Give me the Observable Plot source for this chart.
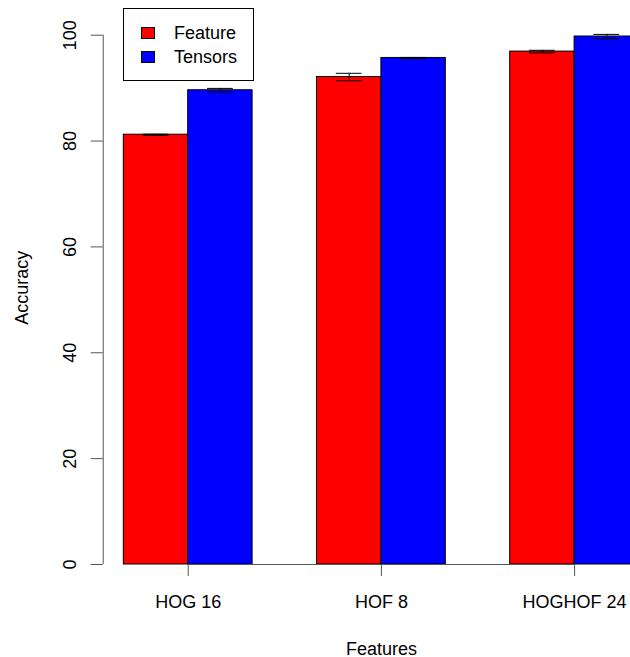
<!DOCTYPE html>
<html>
<head>
<meta charset="utf-8">
<script src="https://cdn.jsdelivr.net/npm/d3@7"></script>
<script src="https://cdn.jsdelivr.net/npm/@observablehq/plot@0.6"></script>
<style>
  html, body { margin: 0; padding: 0; background: #fff; overflow: hidden; }
  #wrap { position: relative; width: 630px; height: 657px; overflow: hidden; }
  #legend { position: absolute; left: 123px; top: 8px; width: 129px; height: 71px;
            border: 1px solid #000; background: #fff; font-family: "Liberation Sans", Arial, Helvetica, sans-serif;
            font-size: 18px; color: #000; box-sizing: content-box; }
  .key { position: absolute; left: 17px; width: 14px; height: 12px; border: 1px solid #000; box-sizing: border-box; }
  .lab { position: absolute; left: 50px; line-height: 20px; }
</style>
</head>
<body>
<div id="wrap"></div>
<script>
// ---- data ----
const groups = ["HOG 16", "HOF 8", "HOGHOF 24"];
const series = ["Feature", "Tensors"];
const featureAcc = [81.2, 92.1, 96.9];
const tensorAcc = [89.6, 95.7, 99.75];
const featureErr = [0.1, 0.7, 0.25];
const tensorErr = [0.35, 0.1, 0.4];
const colors = ["#FF0000", "#0000FF"];
const yTicks = [0, 20, 40, 60, 80, 100];
const yLabel = "Accuracy";
const xLabel = "Features";

// ---- table (R barplot beside=TRUE layout: bar width 1, group gap 1) ----
const values = [featureAcc, tensorAcc];
const errors = [featureErr, tensorErr];
const rows = [];
groups.forEach((g, gi) => {
  series.forEach((s, si) => {
    const x1 = gi * (series.length + 1) + si + 1;
    rows.push({group: g, series: s, value: values[si][gi], err: errors[si][gi], x1, x2: x1 + 1, xc: x1 + 0.5});
  });
});
const lo = 1, hi = groups.length * (series.length + 1); // bars span [1, 9]
const xDomain = [lo - (hi - lo) * 0.04, hi + (hi - lo) * 0.04];
const groupCenters = groups.map((g, gi) => gi * (series.length + 1) + 1 + series.length / 2);
const capHalf = 0.2;

const chart = Plot.plot({
  width: 660,
  height: 657,
  marginLeft: 102.7,
  marginRight: 0.9,
  marginTop: 34.7,
  marginBottom: 93,
  style: {fontFamily: "'Liberation Sans', Arial, Helvetica, sans-serif", fontSize: "18px", maxWidth: "none", background: "#fff", color: "#000"},
  x: {domain: xDomain},
  y: {domain: [0, 100]},
  color: {domain: series, range: colors},
  marks: [
    Plot.rectY(rows, {x1: "x1", x2: "x2", y1: 0, y2: "value", fill: "series", stroke: "#000", strokeWidth: 1}),
    Plot.ruleX(rows, {x: "xc", y1: d => d.value - d.err, y2: d => d.value + d.err, stroke: "#000", strokeWidth: 1}),
    Plot.ruleY(rows, {y: d => d.value - d.err, x1: d => d.xc - capHalf, x2: d => d.xc + capHalf, stroke: "#000", strokeWidth: 1}),
    Plot.ruleY(rows, {y: d => d.value + d.err, x1: d => d.xc - capHalf, x2: d => d.xc + capHalf, stroke: "#000", strokeWidth: 1}),
    Plot.ruleY([0], {x1: groupCenters[0], x2: groupCenters[groupCenters.length - 1], stroke: "#555"}),
    Plot.axisX({ticks: groupCenters, tickFormat: d => groups[groupCenters.indexOf(d)], tickSize: 12, tickPadding: 18.5, stroke: "#555", fill: "#000", label: null}),
    Plot.ruleX([xDomain[0]], {y1: yTicks[0], y2: yTicks[yTicks.length - 1], stroke: "#555"}),
    Plot.axisY({ticks: yTicks, tickSize: 12, tickPadding: 15.4, tickRotate: -90, stroke: "#555", fill: "#000", label: null}),
    Plot.text([yLabel], {frameAnchor: "left", dx: -75.7, dy: -12, rotate: -90, textAnchor: "middle", lineAnchor: "bottom", fill: "#000"}),
    Plot.text([xLabel], {frameAnchor: "bottom", dy: 90, textAnchor: "middle", lineAnchor: "bottom", fill: "#000"})
  ]
});

const wrap = document.getElementById("wrap");
wrap.appendChild(chart);

// legend
const legend = document.createElement("div");
legend.id = "legend";
series.forEach((s, i) => {
  const k = document.createElement("div");
  k.className = "key";
  k.style.top = (18 + i * 24) + "px";
  k.style.background = colors[i];
  legend.appendChild(k);
  const t = document.createElement("div");
  t.className = "lab";
  t.style.top = (13.5 + i * 24) + "px";
  t.textContent = s;
  legend.appendChild(t);
});
wrap.appendChild(legend);
</script>
</body>
</html>
